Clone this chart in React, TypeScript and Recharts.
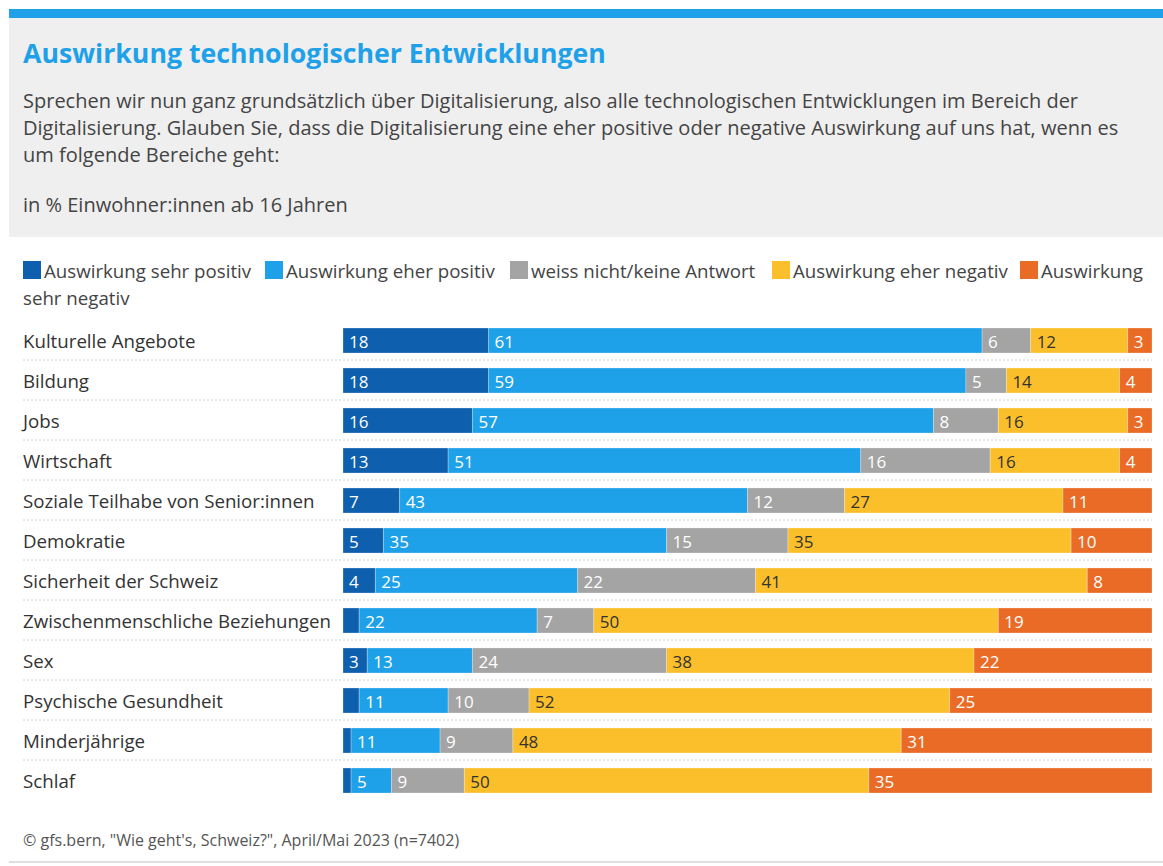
import React from "react";
import { BarChart, Bar, XAxis, YAxis, LabelList } from "recharts";

const categories = [
  "Kulturelle Angebote",
  "Bildung",
  "Jobs",
  "Wirtschaft",
  "Soziale Teilhabe von Senior:innen",
  "Demokratie",
  "Sicherheit der Schweiz",
  "Zwischenmenschliche Beziehungen",
  "Sex",
  "Psychische Gesundheit",
  "Minderjährige",
  "Schlaf",
];
const sehrPositiv = [18, 18, 16, 13, 7, 5, 4, 2, 3, 2, 1, 1];
const eherPositiv = [61, 59, 57, 51, 43, 35, 25, 22, 13, 11, 11, 5];
const weissNicht = [6, 5, 8, 16, 12, 15, 22, 7, 24, 10, 9, 9];
const eherNegativ = [12, 14, 16, 16, 27, 35, 41, 50, 38, 52, 48, 50];
const sehrNegativ = [3, 4, 3, 4, 11, 10, 8, 19, 22, 25, 31, 35];

const seriesNames = [
  "Auswirkung sehr positiv",
  "Auswirkung eher positiv",
  "weiss nicht/keine Antwort",
  "Auswirkung eher negativ",
  "Auswirkung sehr negativ",
];
const seriesKeys = ["sp", "ep", "wn", "en", "sn"];
const seriesColors = ["#0e5fae", "#1fa1e9", "#a4a4a4", "#fbbf2b", "#ea6b25"];
const labelColors = ["#ffffff", "#ffffff", "#ffffff", "#333333", "#ffffff"];

const data = categories.map((c, i) => ({
  name: c,
  sp: sehrPositiv[i],
  ep: eherPositiv[i],
  wn: weissNicht[i],
  en: eherNegativ[i],
  sn: sehrNegativ[i],
}));

const FONT = "'Open Sans', 'Noto Sans', sans-serif";

const CategoryTick = (props: any) => {
  const { y, payload, index } = props;
  return (
    <g>
      <text
        x={14}
        y={y}
        dominantBaseline="central"
        textAnchor="start"
        fill="#333"
        fontSize={18.7}
        fontFamily={FONT}
      >
        {payload.value}
      </text>
      {index < categories.length - 1 && (
        <line
          x1={14}
          x2={1143}
          y1={y + 20}
          y2={y + 20}
          stroke="#d0d0d0"
          strokeDasharray="2 2"
          strokeWidth={1}
        />
      )}
    </g>
  );
};

const makeLabel = (color: string) => (props: any) => {
  const { x, y, height, value } = props;
  if (value < 3) return null;
  return (
    <text
      x={x + 6}
      y={y + height / 2 + 1}
      dominantBaseline="central"
      fill={color}
      fontSize={17}
      fontFamily={FONT}
    >
      {value}
    </text>
  );
};

const legendPos = [23, 265, 510, 772, 1020];

export default function App() {
  return (
    <div
      style={{
        position: "absolute",
        left: 0,
        top: 0,
        width: 1163,
        height: 866,
        background: "#fff",
        fontFamily: FONT,
        overflow: "hidden",
      }}
    >
      <div style={{ position: "absolute", left: 9, top: 9, width: 1154, height: 9, background: "#1fa1e9" }} />
      <div style={{ position: "absolute", left: 9, top: 18, width: 1154, height: 219, background: "#efefef" }} />
      <div
        style={{
          position: "absolute",
          left: 23,
          top: 35,
          lineHeight: "36px",
          fontSize: 26.7,
          fontWeight: 700,
          color: "#1fa1e9",
          whiteSpace: "nowrap",
        }}
      >
        Auswirkung technologischer Entwicklungen
      </div>
      <div
        style={{
          position: "absolute",
          left: 23,
          top: 87,
          lineHeight: "27px",
          fontSize: 20,
          color: "#444",
          whiteSpace: "nowrap",
        }}
      >
        <div>Sprechen wir nun ganz grundsätzlich über Digitalisierung, also alle technologischen Entwicklungen im Bereich der</div>
        <div>Digitalisierung. Glauben Sie, dass die Digitalisierung eine eher positive oder negative Auswirkung auf uns hat, wenn es</div>
        <div>um folgende Bereiche geht:</div>
      </div>
      <div
        style={{
          position: "absolute",
          left: 23,
          top: 191,
          lineHeight: "27px",
          fontSize: 20,
          color: "#444",
          whiteSpace: "nowrap",
        }}
      >
        in % Einwohner:innen ab 16 Jahren
      </div>

      {seriesNames.map((n, i) => (
        <div
          key={n}
          style={{
            position: "absolute",
            left: legendPos[i],
            top: 256,
            height: 28,
            display: "flex",
            alignItems: "center",
            fontSize: 18.7,
            color: "#444",
            whiteSpace: "nowrap",
          }}
        >
          <span style={{ display: "inline-block", width: 18, height: 18, background: seriesColors[i], marginRight: 3 }} />
          <span>{i === 4 ? "Auswirkung" : n}</span>
        </div>
      ))}
      <div
        style={{
          position: "absolute",
          left: 23,
          top: 284,
          lineHeight: "28px",
          fontSize: 18.7,
          color: "#444",
          whiteSpace: "nowrap",
        }}
      >
        sehr negativ
      </div>

      <div style={{ position: "absolute", left: 9, top: 320 }}>
        <BarChart
          width={1154}
          height={480}
          data={data}
          layout="vertical"
          margin={{ top: 0, right: 11, bottom: 0, left: 0 }}
          barSize={25}
        >
          <XAxis type="number" domain={[0, 100]} hide />
          <YAxis
            type="category"
            dataKey="name"
            width={334}
            axisLine={false}
            tickLine={false}
            tick={<CategoryTick />}
            interval={0}
          />
          {seriesKeys.map((k, i) => (
            <Bar
              key={k}
              dataKey={k}
              name={seriesNames[i]}
              stackId="a"
              fill={seriesColors[i]}
              stroke="#ffffff"
              strokeOpacity={0.5}
              strokeWidth={0.5}
              isAnimationActive={false}
            >
              <LabelList dataKey={k} content={makeLabel(labelColors[i])} />
            </Bar>
          ))}
        </BarChart>
      </div>

      <div
        style={{
          position: "absolute",
          left: 23,
          top: 830,
          lineHeight: "20px",
          fontSize: 16,
          color: "#555",
          whiteSpace: "nowrap",
        }}
      >
        © gfs.bern, "Wie geht's, Schweiz?", April/Mai 2023 (n=7402)
      </div>
      <div style={{ position: "absolute", left: 9, top: 861, width: 1154, height: 2, background: "#e0e0e0" }} />
    </div>
  );
}
